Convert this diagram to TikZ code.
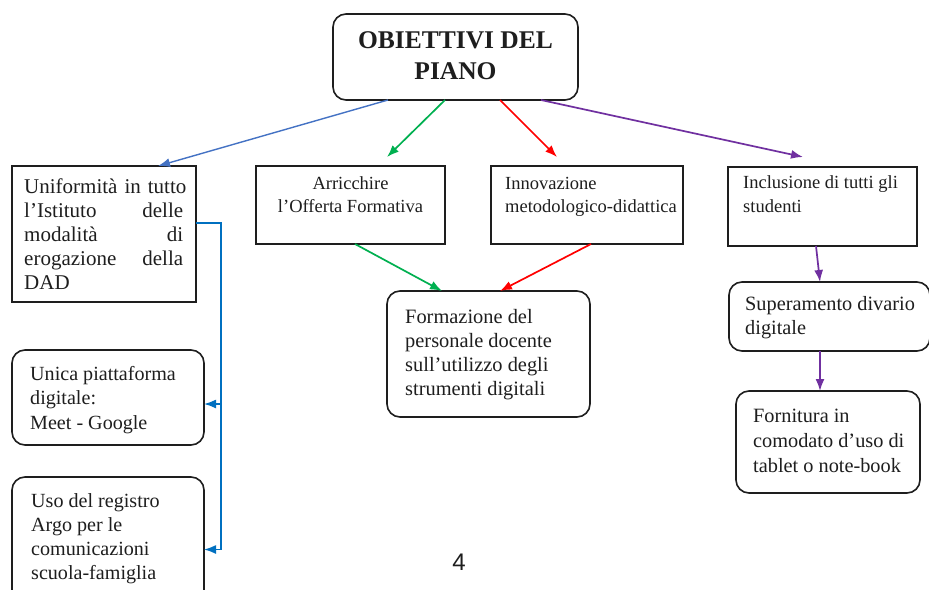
\documentclass[tikz,border=0pt]{standalone}
\usepackage{fontspec}
\setmainfont{Liberation Serif}
\newfontfamily\pgnumfont{Liberation Sans}
\usetikzlibrary{arrows.meta,calc}
\definecolor{ablue}{HTML}{4472C4}
\definecolor{agreen}{HTML}{00B050}
\definecolor{ared}{HTML}{FF0000}
\definecolor{apurple}{HTML}{7030A0}
\definecolor{lblue}{HTML}{0070C0}
\definecolor{ink}{HTML}{1E1E1E}
\begin{document}
\begin{tikzpicture}[x=1pt,y=-1pt,
  sqbox/.style={draw=ink,line width=1.6pt,rectangle,anchor=north west,inner sep=0pt,outer sep=0pt},
  rndbox/.style={sqbox,rounded corners=13pt},
  txt/.style={inner sep=0pt,anchor=north west,align=left,text=ink},
  conn/.style={line width=1.7pt,-{Latex[length=12pt,width=9pt]}},
]
\clip (0,0) rectangle (929,589);
\fill[white] (0,0) rectangle (929,589);

% boxes
\node[rndbox,minimum width=245pt,minimum height=86pt] (T) at (333,14) {};
\node[sqbox,minimum width=184pt,minimum height=136pt] (A) at (12,166) {};
\node[sqbox,minimum width=189pt,minimum height=78pt] (B) at (256,166) {};
\node[sqbox,minimum width=192pt,minimum height=78pt] (C) at (491,166) {};
\node[sqbox,minimum width=189pt,minimum height=79pt] (D) at (728,167) {};
\node[rndbox,minimum width=203pt,minimum height=126pt] (E) at (387,291) {};
\node[rndbox,minimum width=201pt,minimum height=69pt] (F) at (729,282) {};
\node[rndbox,minimum width=184pt,minimum height=102pt] (G) at (736,391) {};
\node[rndbox,minimum width=192pt,minimum height=95pt] (H) at (12,350) {};
\node[rndbox,minimum width=192pt,minimum height=140pt] (I) at (12,477) {};

% texts
\node[txt,anchor=north,align=center,font=\fontsize{25.5}{31}\selectfont\bfseries] (Tt) at (455.5,26.3) {\strut OBIETTIVI DEL\\PIANO};
\node[txt,text width=159pt,font=\fontsize{21}{24}\selectfont] (At) at (24,176.2)
  {\strut\mbox{Uniformità in tutto}\\ l’Istituto\hfill delle\\ modalità\hfill di\\ erogazione\hfill della\\ DAD};
\node[txt,anchor=north,align=center,font=\fontsize{18.5}{23}\selectfont] (Bt) at (350.5,172.9) {\strut Arricchire\\l’Offerta Formativa};
\node[txt,font=\fontsize{18.5}{23}\selectfont] (Ct) at (505,172.9) {\strut Innovazione\\metodologico-didattica};
\node[txt,font=\fontsize{18.5}{24}\selectfont] (Dt) at (743,171.2) {\strut Inclusione di tutti gli\\studenti};
\node[txt,font=\fontsize{20.4}{24}\selectfont] (Et) at (405,306.2) {\strut Formazione del\\personale docente\\sull’utilizzo degli\\strumenti digitali};
\node[txt,font=\fontsize{20.3}{24}\selectfont] (Ft) at (745,293.2) {\strut Superamento divario\\digitale};
\node[txt,font=\fontsize{20.3}{25}\selectfont] (Gt) at (753,404.5) {\strut Fornitura in\\comodato d’uso di\\tablet o note-book};
\node[txt,font=\fontsize{20.1}{24.5}\selectfont] (Ht) at (30,362.9) {\strut Unica piattaforma\\digitale:\\Meet - Google};
\node[txt,font=\fontsize{20.1}{24}\selectfont] (It) at (31,490.2) {\strut Uso del registro\\Argo per le\\comunicazioni\\scuola-famiglia};
\node[txt,anchor=base,font=\pgnumfont\fontsize{24}{28}\selectfont] (pg) at (459,570) {4};

% connectors from title
\draw[conn,ablue,line width=1.4pt] ([xshift=55pt]T.south west) -- ([xshift=146pt]A.north west);
\draw[conn,agreen] ([xshift=112pt]T.south west) -- ([xshift=131pt,yshift=9pt]B.north west);
\draw[conn,ared] ([xshift=167pt]T.south west) -- ([xshift=66pt,yshift=9pt]C.north west);
\draw[conn,apurple] ([xshift=208pt]T.south west) -- ([xshift=75pt,yshift=10pt]D.north west);
% second level
\draw[conn,agreen] ([xshift=99pt]B.south west) -- ([xshift=55pt]E.north west);
\draw[conn,ared] ([xshift=100pt]C.south west) -- ([xshift=113pt]E.north west);
\draw[conn,apurple] ([xshift=88pt]D.south west) -- ([xshift=91pt]F.north west);
\draw[conn,apurple] ([xshift=91pt]F.south west) -- ([xshift=84pt]G.north west);

% blue bracket
\coordinate (aE) at ([yshift=11pt]A.east);
\coordinate (j1) at ([xshift=25pt]aE);
\coordinate (hE) at ([yshift=-6.5pt]H.east);
\coordinate (iE) at ([yshift=-2.5pt]I.east);
\draw[conn,lblue,line width=1.6pt] (aE) -- (j1) |- (iE);
\draw[conn,lblue,line width=1.6pt] (hE -| j1) -- (hE);
\end{tikzpicture}
\end{document}
